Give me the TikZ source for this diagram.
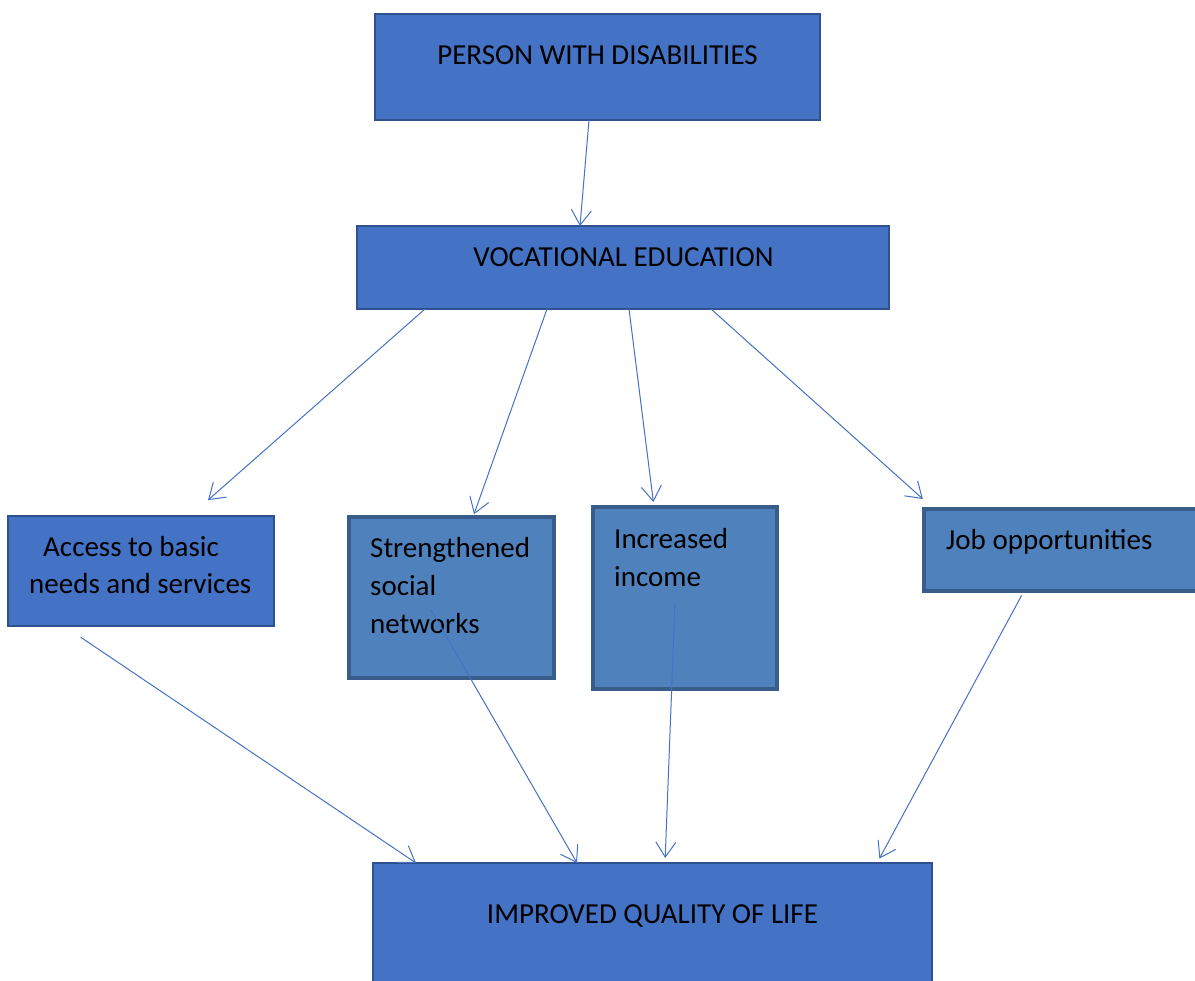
\documentclass[tikz,border=0pt]{standalone}
\usepackage{fontspec}
\setmainfont{Carlito}
\usetikzlibrary{calc}
\usetikzlibrary{arrows.meta}

\definecolor{boxblue}{HTML}{4472C4}
\definecolor{boxedge}{HTML}{2F528F}
\definecolor{midblue}{HTML}{4F81BD}
\definecolor{midedge}{HTML}{385D8A}

\begin{document}
\begin{tikzpicture}[x=1pt,y=-1pt,
        box/.style={draw=boxedge,fill=boxblue,line width=1.5pt,inner sep=0pt,outer sep=0pt,anchor=north west},
        midbox/.style={draw=midedge,fill=midblue,line width=4.5pt,inner sep=0pt,outer sep=0pt,anchor=north west},
        lbl/.style={inner sep=0pt,font=\fontsize{29}{38}\selectfont,align=left},
        link/.style={draw=boxblue,line width=1pt,-{Straight Barb[length=15pt,width=20pt]}}]
                \useasboundingbox (0,0) rectangle (1195,981);

                % boxes
                \node[box,minimum width=445pt,minimum height=106pt] (pwd) at (375,14) {};
                \node[box,minimum width=532pt,minimum height=83pt] (ve) at (357,226) {};
                \node[box,minimum width=266pt,minimum height=110pt] (acc) at (8,516) {};
                \node[midbox,minimum width=205pt,minimum height=161pt] (str) at (349,517) {};
                \node[midbox,minimum width=184pt,minimum height=182pt] (inc) at (593,507) {};
                \node[midbox,minimum width=300pt,minimum height=82pt] (job) at (924,509) {};
                \node[box,minimum width=559pt,minimum height=140pt] (iql) at (373,863) {};

                % texts (base = last line)
                \node[lbl,anchor=base] (pwd-t) at (597.5,65) {PERSON WITH DISABILITIES};
                \node[lbl,anchor=base] (ve-t) at (623.5,267) {VOCATIONAL EDUCATION};
                \node[lbl,anchor=base west] (acc-t) at (29,594) {\hspace*{14pt}Access to basic\\needs and services};
                \node[lbl,anchor=base west] (str-t) at (370,633) {Strengthened\\social\\networks};
                \node[lbl,anchor=base west] (inc-t) at (614,586) {Increased\\income};
                \node[lbl,anchor=base west] (job-t) at (946,550) {Job opportunities};
                \node[lbl,anchor=base] (iql-t) at (652.5,923) {IMPROVED QUALITY OF LIFE};

                % arrows
                \draw[link] (pwd.south -| 589,0) -- (ve.north -| 580,0);
                \draw[link,shorten >=24pt] (ve.south -| 425,0) -- (acc.north -| 190,0);
                \draw[link,shorten >=3pt] (ve.south -| 547,0) -- (str.north -| 473,0);
                \draw[link,shorten >=5pt] (ve.south -| 629,0) -- (inc.north -| 654,0);
                \draw[link,shorten >=15pt] (ve.south -| 711,0) -- (job.north -| 934,0);
                \draw[link,shorten <=20pt] (acc.south -| 64,0) -- (iql.north -| 416,0);
                \draw[link] ($(str.south west)+(82,-68)$) -- (iql.north -| 577,0);
                \draw[link,shorten >=5pt] ($(inc.south west)+(82,-86)$) -- (iql.north -| 665,0);
                \draw[link,shorten <=5pt,shorten >=5pt] (job.south -| 1024,0) -- (iql.north -| 877,0);
\end{tikzpicture}
\end{document}
